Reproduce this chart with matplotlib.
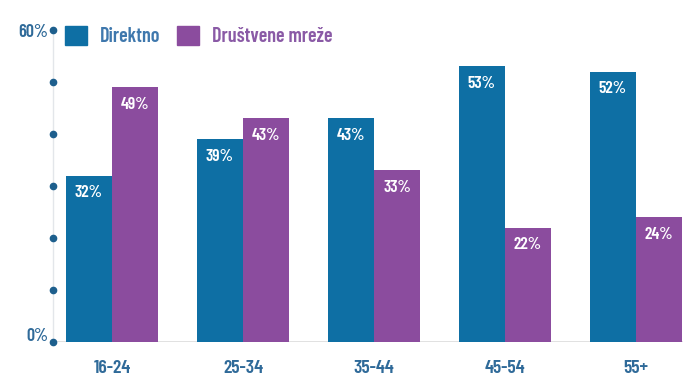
import matplotlib
matplotlib.use("Agg")
import matplotlib.pyplot as plt
import matplotlib.transforms as mtransforms
from matplotlib.patches import Patch
import numpy as np

categories = ["16-24", "25-34", "35-44", "45-54", "55+"]
direktno = [32, 39, 43, 53, 52]
drustvene = [49, 43, 33, 22, 24]
series_names = ["Direktno", "Društvene mreže"]
ytick_values = [0, 10, 20, 30, 40, 50, 60]

BLUE = "#0e6fa4"
PURPLE = "#8b4c9e"
AXIS_BLUE = "#2f6a99"

plt.rcParams["font.family"] = ["Barlow Condensed", "IBM Plex Sans Condensed", "DejaVu Sans"]

fig = plt.figure(figsize=(6.83, 3.87), dpi=100)
ax = fig.add_axes([53 / 683, 45 / 387, 630 / 683, 312 / 387])

x = np.arange(len(categories))
w = 0.352
b1 = ax.bar(x - w / 2, direktno, w, color=BLUE, zorder=3)
b2 = ax.bar(x + w / 2, drustvene, w, color=PURPLE, zorder=3)

for bars, vals in ((b1, direktno), (b2, drustvene)):
    for rect, v in zip(bars, vals):
        ax.annotate(f"{v}%", (rect.get_x() + rect.get_width() / 2, v),
                    xytext=(0, -12.5), textcoords="offset points",
                    ha="center", va="center", color="white",
                    fontsize=12.5, fontweight="semibold", zorder=4)

ax.set_xlim(-0.45, 4.36)
ax.set_ylim(0, 60)

for s in ax.spines.values():
    s.set_visible(False)
ax.set_yticks([])
ax.set_xticks(x)
ax.set_xticklabels(categories, fontsize=14, fontweight="semibold", color=AXIS_BLUE)
ax.tick_params(axis="x", length=0, pad=13)

# faint axis line, baseline and dot markers
trans = mtransforms.blended_transform_factory(ax.transAxes, ax.transData)
ax.plot([0, 0], [0, 60], transform=trans, color="#e3e6ea", lw=1, zorder=1, clip_on=False)
ax.axhline(0, color="#dcdcdc", lw=1.2, zorder=1)
ax.plot([0] * len(ytick_values), ytick_values, "o", transform=trans,
        color="#1d5f8d", ms=4.5, zorder=5, clip_on=False)
ax.text(-0.008, 59.6, "60%", transform=trans, ha="right", va="center",
        fontsize=13, fontweight="semibold", color=AXIS_BLUE)
ax.text(-0.008, 1.0, "0%", transform=trans, ha="right", va="center",
        fontsize=13, fontweight="semibold", color=AXIS_BLUE)

handles = [Patch(color=BLUE), Patch(color=PURPLE)]
fig.legend(handles, series_names, loc="center left",
           bbox_to_anchor=(47 / 683, 1 - 36 / 387), ncol=2, frameon=False,
           handlelength=1.1, handleheight=1.1, handletextpad=0.65,
           columnspacing=0.8, prop={"size": 14.5, "weight": "semibold"},
           labelcolor=["#3f78ad", "#8a5aa6"])

fig.savefig("out.png", dpi=100)
